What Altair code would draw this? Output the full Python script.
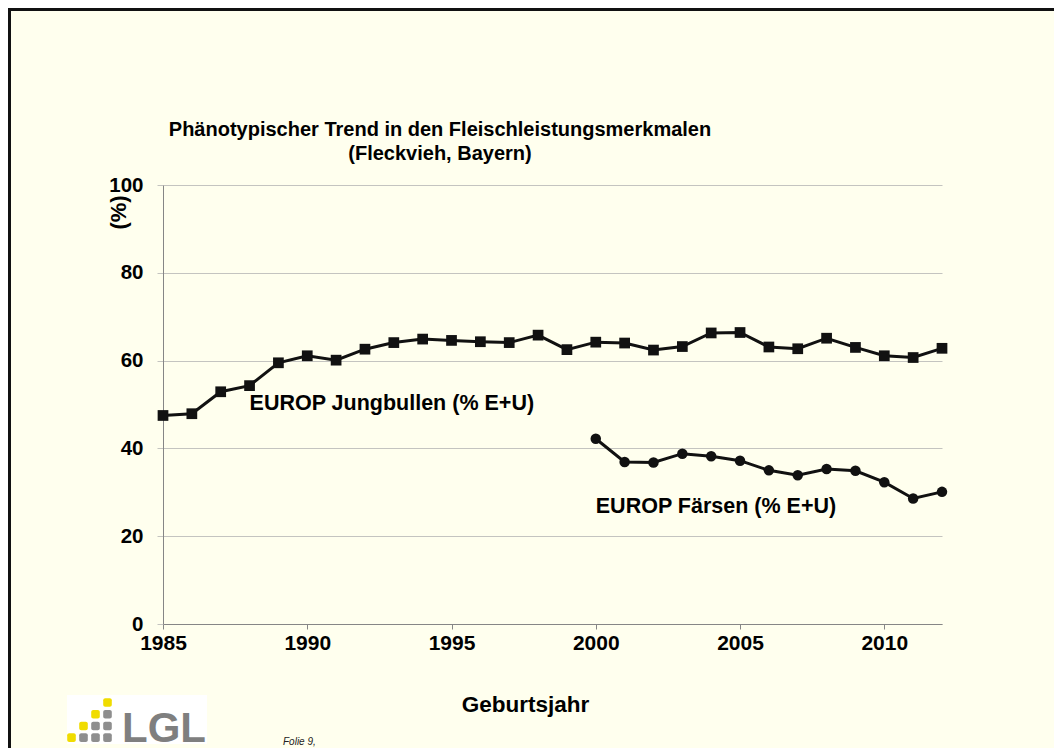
import altair as alt
import pandas as pd

# ---- data ----
years_bullen = list(range(1985, 2013))
bullen = [47.5, 47.9, 52.9, 54.3, 59.5, 61.1, 60.1, 62.6, 64.1, 64.9, 64.6, 64.3, 64.1, 65.8,
          62.5, 64.2, 64.0, 62.4, 63.2, 66.3, 66.4, 63.1, 62.7, 65.1, 63.0, 61.1, 60.7, 62.8]
years_faersen = list(range(2000, 2013))
faersen = [42.2, 36.9, 36.8, 38.8, 38.2, 37.2, 35.0, 33.9, 35.3, 34.9, 32.3, 28.6, 30.1]
x_ticks = [1985, 1990, 1995, 2000, 2005, 2010]
y_ticks = [0, 20, 40, 60, 80, 100]
title_lines = ["Phänotypischer Trend in den Fleischleistungsmerkmalen", "(Fleckvieh, Bayern)"]
label_bullen = "EUROP Jungbullen (% E+U)"
label_faersen = "EUROP Färsen (% E+U)"
x_title = "Geburtsjahr"
y_title = "(%)"
folie = "Folie 9,"
logo_text = "LGL"

FONT = "Liberation Sans"
BG = "#FFFFEE"

df_b = pd.DataFrame({"Jahr": years_bullen, "Wert": bullen})
df_f = pd.DataFrame({"Jahr": years_faersen, "Wert": faersen})

xscale = alt.Scale(domain=[1985, 2012], nice=False, zero=False)
yscale = alt.Scale(domain=[0, 100], nice=False)

xaxis = alt.Axis(values=x_ticks, format="d", grid=False, labelFont=FONT, labelFontSize=21,
                 labelFontWeight="bold", labelColor="black", domainColor="#868686",
                 tickColor="#868686", tickSize=5, labelPadding=3, title=x_title,
                 titleFont=FONT, titleFontSize=22.5, titleFontWeight="bold", titleColor="black",
                 titleX=362, titleY=87, titleAlign="center", titleBaseline="alphabetic",
                 labelFlush=False)
yaxis = alt.Axis(values=y_ticks, grid=True, gridColor="#c4c4c0", labelFont=FONT, labelFontSize=20.5,
                 labelFontWeight="bold", labelColor="black", domainColor="#868686",
                 tickColor="#c4c4c0", tickSize=6, labelPadding=14, title=y_title,
                 titleFont=FONT, titleFontSize=22, titleFontWeight="bold", titleColor="black",
                 titleAngle=-90, titleX=-38, titleY=27, titleAlign="center",
                 titleBaseline="alphabetic")

x_enc = alt.X("Jahr:Q", scale=xscale, axis=xaxis)
y_enc = alt.Y("Wert:Q", scale=yscale, axis=yaxis)

line_b = alt.Chart(df_b).mark_line(color="#111111", strokeWidth=3).encode(x=x_enc, y=y_enc)
pts_b = alt.Chart(df_b).mark_square(color="#111111", size=115, opacity=1).encode(
    x=alt.X("Jahr:Q", scale=xscale), y=alt.Y("Wert:Q", scale=yscale))
line_f = alt.Chart(df_f).mark_line(color="#111111", strokeWidth=3).encode(
    x=alt.X("Jahr:Q", scale=xscale), y=alt.Y("Wert:Q", scale=yscale))
pts_f = alt.Chart(df_f).mark_circle(color="#111111", size=110, opacity=1).encode(
    x=alt.X("Jahr:Q", scale=xscale), y=alt.Y("Wert:Q", scale=yscale))

ann = pd.DataFrame({"Jahr": [1988.0, 2000.0], "Wert": [48.8, 25.3],
                    "txt": [label_bullen, label_faersen]})
ann_text = alt.Chart(ann).mark_text(font=FONT, fontSize=21.5, fontWeight="bold", color="black",
                                    align="left", baseline="alphabetic").encode(
    x=alt.X("Jahr:Q", scale=xscale), y=alt.Y("Wert:Q", scale=yscale), text="txt:N")

one = pd.DataFrame({"k": [0]})

# decorative frame, title and logo (pixel positions relative to the plot area)
deco = []
deco.append(alt.Chart(one).mark_rule(color="#111111", strokeWidth=3).encode(
    x=alt.value(-153.5), y=alt.value(-177), y2=alt.value(563)))
deco.append(alt.Chart(one).mark_rule(color="#111111", strokeWidth=3).encode(
    x=alt.value(-155), x2=alt.value(891), y=alt.value(-175.5)))
for i, line in enumerate(title_lines):
    deco.append(alt.Chart(one).mark_text(text=line, font=FONT, fontSize=20, fontWeight="bold",
                                         color="black", align="center", baseline="alphabetic").encode(
        x=alt.value(440 - 163), y=alt.value(136 - 185 + 24 * i)))
deco.append(alt.Chart(one).mark_rect(color="white").encode(
    x=alt.value(-96), x2=alt.value(44), y=alt.value(510), y2=alt.value(559)))
yellow, grey = "#F0DC00", "#8E8E8E"
cols = [71.5, 83.5, 95.5, 107.5]
rows = [702.5, 714.2, 726.0, 737.6]
cells = [(0, 3, yellow), (1, 2, yellow), (1, 3, grey), (2, 1, yellow), (2, 2, grey), (2, 3, grey),
         (3, 0, yellow), (3, 1, grey), (3, 2, grey), (3, 3, grey)]
for r, c, col in cells:
    cx, cy = cols[c] - 163, rows[r] - 185
    deco.append(alt.Chart(one).mark_rect(color=col, cornerRadius=2).encode(
        x=alt.value(cx - 4.3), x2=alt.value(cx + 4.3), y=alt.value(cy - 4.3), y2=alt.value(cy + 4.3)))
deco.append(alt.Chart(one).mark_text(text=logo_text, font=FONT, fontSize=42, fontWeight="bold",
                                     color="#7F7F7F", align="left", baseline="alphabetic").encode(
    x=alt.value(122 - 163), y=alt.value(742 - 185)))
deco.append(alt.Chart(one).mark_text(text=folie, font=FONT, fontSize=10, fontStyle="italic",
                                     color="#222222", align="left", baseline="alphabetic").encode(
    x=alt.value(283 - 163), y=alt.value(745 - 185)))

chart = alt.layer(*deco, line_b, line_f, pts_b, pts_f, ann_text).properties(
    width=779, height=439,
    background=BG,
    padding={"left": 155, "top": 177, "right": 112, "bottom": 124},
    autosize=alt.AutoSizeParams(type="none"),
).configure_view(stroke=None)

chart.save("out.html", embed_options={"renderer": "svg", "actions": False})
